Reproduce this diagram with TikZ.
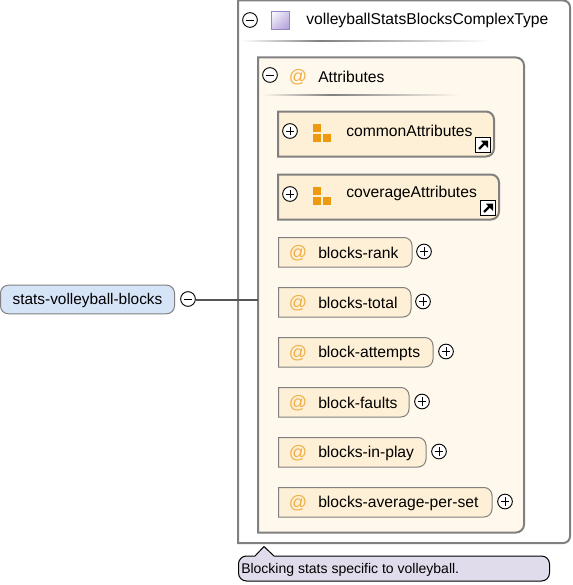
\documentclass[tikz,border=0pt]{standalone}
\usepackage{fontspec}
\setmainfont{Liberation Sans}
\usetikzlibrary{shadings}
\definecolor{boxgray}{HTML}{808080}
\definecolor{linkgray}{HTML}{555555}
\definecolor{attrback}{HTML}{FFF8EC}
\definecolor{attrfill}{HTML}{FEF0D6}
\definecolor{elemfill}{HTML}{D6E4F8}
\definecolor{notefill}{HTML}{E1DCEC}
\definecolor{myorange}{HTML}{EE9A11}
\definecolor{atorange}{HTML}{F0AE48}
\definecolor{typepurple}{HTML}{AD9AD6}
\definecolor{typeedge}{HTML}{9585C0}
\tikzset{
    label/.style={anchor=west, inner sep=0pt, font=\fontsize{11.75}{13}\selectfont, text=black},
    attmark/.style={anchor=center, inner sep=0pt, font=\fontsize{13.5}{15}\selectfont, text=atorange},
    toggle/.style={circle, draw=black, fill=white, line width=0.7pt, minimum size=11pt, inner sep=0pt},
    minus/.style={toggle, path picture={\draw[line width=0.55pt] ([xshift=-3.2pt]path picture bounding box.center) -- ([xshift=3.2pt]path picture bounding box.center);}},
    plus/.style={toggle, path picture={
        \draw[line width=0.55pt] ([xshift=-3.2pt]path picture bounding box.center) -- ([xshift=3.2pt]path picture bounding box.center);
        \draw[line width=0.55pt] ([yshift=-3.2pt]path picture bounding box.center) -- ([yshift=3.2pt]path picture bounding box.center);}},
    bigbox/.style={draw=boxgray, line width=1.5pt},
    rowbox/.style={draw=boxgray, line width=0.75pt, fill=attrfill},
    block/.style={fill=myorange},
}
% group icon with its shortcut arrow
\newcommand{\groupicon}[1]{
    \fill[block] (313,#1-7) rectangle (321,#1+1);
    \fill[block] (313,#1+3) rectangle (321,#1+11);
    \fill[block] (323,#1+3) rectangle (331,#1+11);
}
\newcommand{\shortcut}[2]{
    \draw[black, fill=white, line width=0.9pt] (#1,#2) rectangle (#1+15,#2+15);
    \draw[black, line width=1.8pt] (#1+3.5,#2+11.5) -- (#1+9,#2+6);
    \fill[black] (#1+5,#2+3) -- (#1+12.5,#2+3) -- (#1+12.5,#2+10.5) -- cycle;
}
\begin{document}
\begin{tikzpicture}[x=0.75pt, y=-0.75pt]
    \useasboundingbox (0,0) rectangle (572,585);
    \fill[white] (0,0) rectangle (572,585);

    % type box
    \draw[bigbox, fill=white] (238,0.5) [rounded corners=5pt] -- (570,0.5) -- (570,543) [sharp corners] -- (238,543) -- cycle;
    \node[minus] (typeToggle) at (250,20) {};
    \shade[upper left=white, lower right=typepurple, upper right=typepurple!55!white, lower left=typepurple!55!white] (271,11.5) rectangle (289.5,29.5);
    \draw[typeedge, line width=0.75pt] (271,11.5) rectangle (289.5,29.5);
    \node[label] (typeName) at (306,20) {volleyballStatsBlocksComplexType};
    \shade[left color=white, right color=boxgray] (241,40.2) rectangle (320,41.8);
    \shade[left color=boxgray, right color=white] (320,40.2) rectangle (490,41.8);

    % attributes box
    \draw[bigbox, fill=attrback] (258,57.5) [rounded corners=6pt] -- (524,57.5) -- (524,532.5) [sharp corners] -- (258,532.5) -- cycle;
    \node[minus] (attrToggle) at (270,75) {};
    \node[attmark] (attrMark) at (298,77) {@};
    \node[label] (attrName) at (318,76.5) {Attributes};
    \shade[left color=attrback, right color=boxgray] (262,94.2) rectangle (330,95.8);
    \shade[left color=boxgray, right color=attrback] (330,94.2) rectangle (460,95.8);

    % attribute groups
    \draw[bigbox, fill=attrfill] (278,111.5) [rounded corners=6pt] -- (494,111.5) -- (494,156.5) [sharp corners] -- (278,156.5) -- cycle;
    \node[plus] (commonToggle) at (290,131) {};
    \groupicon{131}
    \node[label] (commonName) at (346,130.7) {commonAttributes};
    \shortcut{475.5}{137.5}

    \draw[bigbox, fill=attrfill] (278,174.5) [rounded corners=6pt] -- (499,174.5) -- (499,219.5) [sharp corners] -- (278,219.5) -- cycle;
    \node[plus] (coverageToggle) at (290,194) {};
    \groupicon{194}
    \node[label] (coverageName) at (346,193.7) {coverageAttributes};
    \shortcut{480.5}{200.5}

    % attributes
    \foreach \y/\r/\t/\n/\p in {237/412/blocks-rank/rank/424, 287/411/blocks-total/total/423, 337/433/block-attempts/attempts/446, 387/409/block-faults/faults/422, 437/426/blocks-in-play/play/439, 487/492/blocks-average-per-set/average/505}{
        \draw[rowbox] (278.5,\y+0.5) [rounded corners=6pt] -- (\r,\y+0.5) -- (\r,\y+30) [sharp corners] -- (278.5,\y+30) -- cycle;
        \node[attmark] (\n Mark) at (298,\y+16) {@};
        \node[label] (\n Name) at (318,\y+16) {\t};
        \node[plus] (\n Toggle) at (\p,\y+14.5) {};
    }

    % element
    \node[draw=boxgray, fill=elemfill, line width=0.75pt, rounded corners=6pt, minimum width=130.5pt, minimum height=21.5pt, inner sep=0pt, text height=10pt, text depth=2.6pt, font=\fontsize{11.55}{13}\selectfont] (statsElem) at (87.5,299.5) {stats-volleyball-blocks};
    \node[minus] (statsToggle) at (188,299) {};
    \coordinate (attrEntry) at (258,299.5);
    \draw[linkgray, line width=1.5pt] (statsToggle.east |- attrEntry) -- (attrEntry);

    % note
    \draw[black, fill=notefill, line width=0.75pt, rounded corners=6pt] (238.5,556) [sharp corners] -- (255,556) -- (264,546.5) -- (274,556) [rounded corners=6pt] -- (549.5,556) -- (549.5,581) -- (238.5,581) -- cycle;
    \node[label, font=\fontsize{10.5}{12}\selectfont] (noteText) at (241,570) {Blocking stats specific to volleyball.};
\end{tikzpicture}
\end{document}
